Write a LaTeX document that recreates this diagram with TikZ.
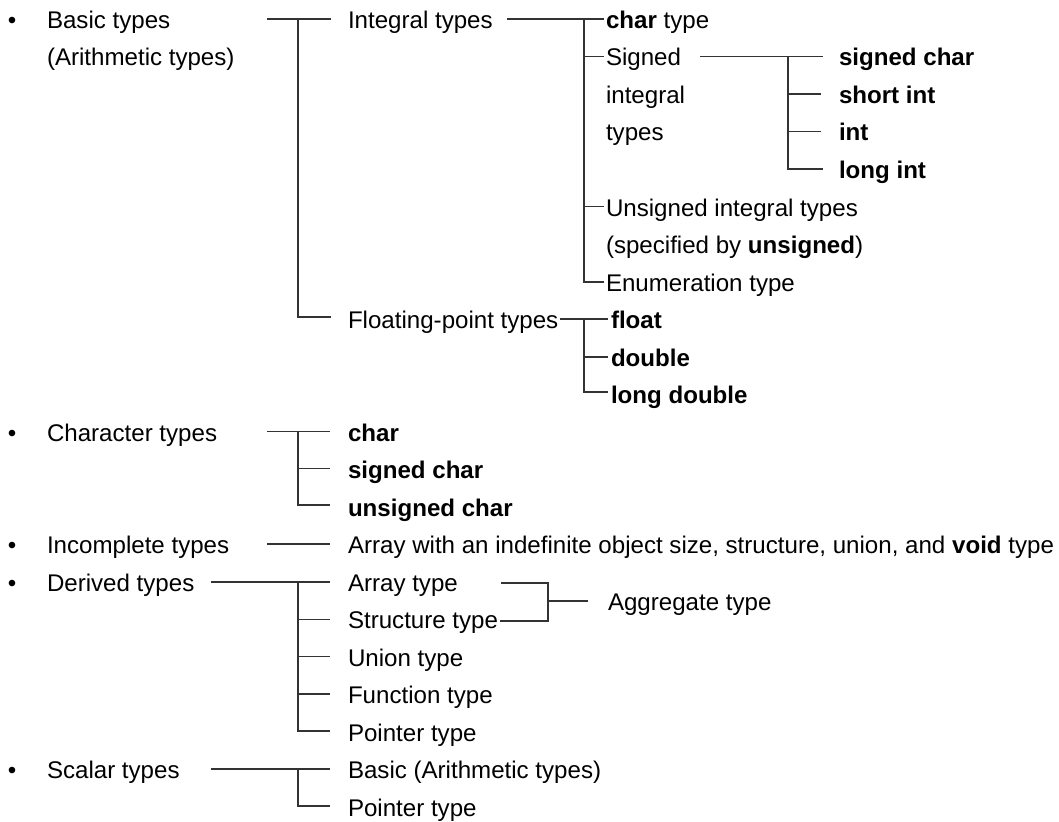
\documentclass[tikz,border=0pt]{standalone}
\usepackage{fontspec}
\setmainfont{Liberation Sans}
\begin{document}
\begin{tikzpicture}[x=1pt,y=-1pt,
  lbl/.style={anchor=base west,inner sep=0pt,outer sep=0pt,font=\fontsize{24.1}{28}\selectfont,text=black},
  conn/.style={draw=black!80,line width=1.2pt,line cap=rect}]
\useasboundingbox (0,0) rectangle (1059,821);
% ---------- bullets ----------
\node[lbl] (u1) at (8,28.5) {•};
\node[lbl] (u2) at (8,441) {•};
\node[lbl] (u3) at (8,553.5) {•};
\node[lbl] (u4) at (8,591) {•};
\node[lbl] (u5) at (8,778.5) {•};
% ---------- column A ----------
\node[lbl] (basic)  at (47,28.5) {Basic types};
\node[lbl] (basic2) at (47,66)   {(Arithmetic types)};
\node[lbl] (chart)  at (47,441)  {Character types};
\node[lbl] (incomp) at (47,553.5){Incomplete types};
\node[lbl] (deriv)  at (47,591)  {Derived types};
\node[lbl] (scal)   at (47,778.5){Scalar types};
% ---------- column B ----------
\node[lbl] (integ)  at (348,28.5) {Integral types};
\node[lbl] (flt)    at (348,328.5){Floating-point types};
\node[lbl] (cc1)    at (348,441)  {\textbf{char}};
\node[lbl] (cc2)    at (348,478.5){\textbf{signed char}};
\node[lbl] (cc3)    at (348,516)  {\textbf{unsigned char}};
\node[lbl] (inc1)   at (348,553.5){Array with an indefinite object size, structure, union, and \textbf{void} type};
\node[lbl] (dv1)    at (348,591)  {Array type};
\node[lbl] (dv2)    at (348,628.5){Structure type};
\node[lbl] (dv3)    at (348,666)  {Union type};
\node[lbl] (dv4)    at (348,703.5){Function type};
\node[lbl] (dv5)    at (348,741)  {Pointer type};
\node[lbl] (sc1)    at (348,778.5){Basic (Arithmetic types)};
\node[lbl] (sc2t)   at (348,816)  {Pointer type};
\node[lbl] (aggr)   at (608,610)  {Aggregate type};
% ---------- column C ----------
\node[lbl] (it1)  at (606,28.5) {\textbf{char} type};
\node[lbl] (it2)  at (606,66)   {Signed};
\node[lbl] (it2b) at (606,103.5){integral};
\node[lbl] (it2c) at (606,141)  {types};
\node[lbl] (it3)  at (606,216)  {Unsigned integral types};
\node[lbl] (it3b) at (606,253.5){(specified by \textbf{unsigned})};
\node[lbl] (it4)  at (606,291)  {Enumeration type};
\node[lbl] (fl1)  at (611,328.5){\textbf{float}};
\node[lbl] (fl2)  at (611,366)  {\textbf{double}};
\node[lbl] (fl3)  at (611,403.5){\textbf{long double}};
% ---------- column D ----------
\node[lbl] (si1) at (839,66)   {\textbf{signed char}};
\node[lbl] (si2) at (839,103.5){\textbf{short int}};
\node[lbl] (si3) at (839,141)  {\textbf{int}};
\node[lbl] (si4) at (839,178.5){\textbf{long int}};
% ---------- connector points ----------
\coordinate (bL) at (268,19);  \coordinate (bJ) at (298,19);
\coordinate (bR) at (330,19);  \coordinate (bE) at (330,317);
\coordinate (iL) at (508,19);  \coordinate (iJ) at (584,19);
\coordinate (iR) at (603,19);  \coordinate (iS) at (603,56.5);
\coordinate (iU) at (603,206.5); \coordinate (iE) at (603,282);
\coordinate (sL) at (701,56.5); \coordinate (sJ) at (788,56.5);
\coordinate (sR) at (822,56.5); \coordinate (s2) at (820,94);
\coordinate (s3) at (820,131.5); \coordinate (s4) at (822,169);
\coordinate (fL) at (561,319); \coordinate (fJ) at (584,319);
\coordinate (fR) at (607,319); \coordinate (f2) at (607,357);
\coordinate (f3) at (607,392);
\coordinate (cL) at (268,431.5); \coordinate (cJ) at (298,431.5);
\coordinate (cR) at (329,431.5); \coordinate (c2) at (329,468.5);
\coordinate (c3) at (329,505);
\coordinate (nL) at (268,544); \coordinate (nR) at (329,544);
\coordinate (dL) at (212,582); \coordinate (dJ) at (298,582);
\coordinate (dR) at (329,582); \coordinate (d2) at (329,619.5);
\coordinate (d3) at (329,656.5); \coordinate (d4) at (329,694);
\coordinate (d5) at (329,731);
\coordinate (aA) at (502,583); \coordinate (aT) at (548,583);
\coordinate (aB) at (548,621); \coordinate (aS) at (501,621);
\coordinate (aM) at (548,601); \coordinate (aR) at (587,601);
\coordinate (scL) at (212,769); \coordinate (scJ) at (298,769);
\coordinate (scR) at (329,769); \coordinate (sc2) at (329,806);
% ---------- connectors ----------
\draw[conn] (bL) -- (bR);  \draw[conn] (bJ) |- (bE);
\draw[conn] (iL) -- (iR);  \draw[conn] (iJ) |- (iE);
\draw[conn] (iJ |- iS) -- (iS); \draw[conn] (iJ |- iU) -- (iU);
\draw[conn] (sL) -- (sR);  \draw[conn] (sJ) |- (s4);
\draw[conn] (sJ |- s2) -- (s2); \draw[conn] (sJ |- s3) -- (s3);
\draw[conn] (fL) -- (fR);  \draw[conn] (fJ) |- (f3);
\draw[conn] (fJ |- f2) -- (f2);
\draw[conn] (cL) -- (cR);  \draw[conn] (cJ) |- (c3);
\draw[conn] (cJ |- c2) -- (c2);
\draw[conn] (nL) -- (nR);
\draw[conn] (dL) -- (dR);  \draw[conn] (dJ) |- (d5);
\draw[conn] (dJ |- d2) -- (d2); \draw[conn] (dJ |- d3) -- (d3);
\draw[conn] (dJ |- d4) -- (d4);
\draw[conn] (aA) -- (aT) -- (aB) -- (aS);
\draw[conn] (aM) -- (aR);
\draw[conn] (scL) -- (scR); \draw[conn] (scJ) |- (sc2);
\end{tikzpicture}
\end{document}
